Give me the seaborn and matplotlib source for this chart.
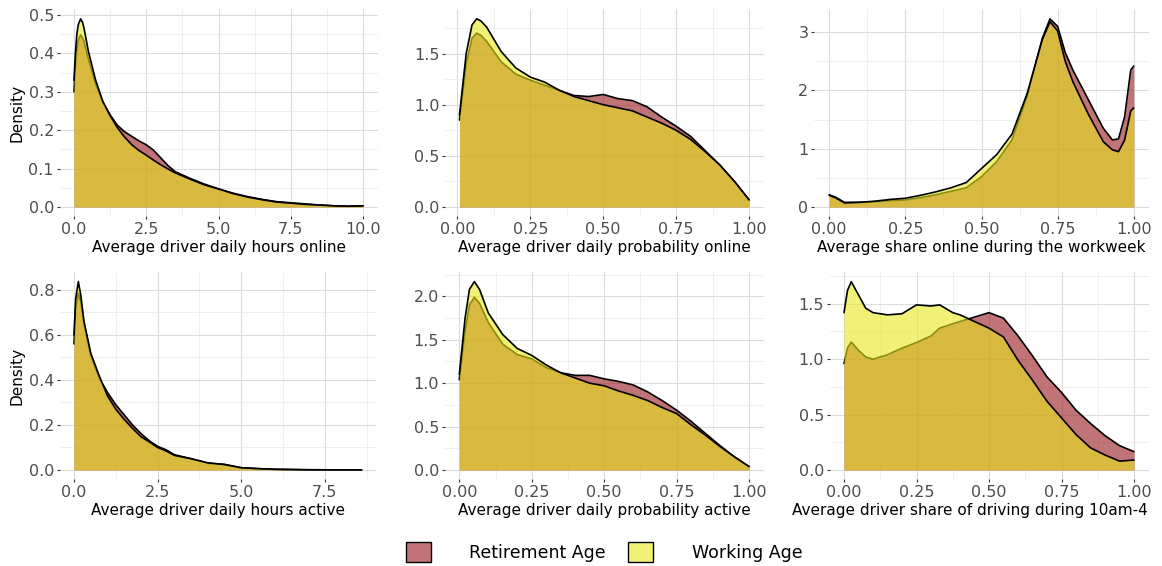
import numpy as np
import pandas as pd
import matplotlib
matplotlib.use("Agg")
import matplotlib.pyplot as plt
from matplotlib.patches import Patch
from matplotlib.ticker import AutoMinorLocator
from matplotlib.colors import to_rgba
import seaborn as sns

# ── density curves (Retirement Age / Working Age) ──
x_hours_online = [0, 0.05, 0.1, 0.15, 0.23, 0.3, 0.35, 0.5, 0.75, 1.0, 1.25, 1.5, 1.75, 2.0, 2.25,
                  2.5, 2.75, 3.0, 3.25, 3.5, 4.0, 4.5, 5.0, 5.5, 6.0, 6.5, 7.0, 7.5, 8.0, 8.5,
                  9.0, 9.5, 10.0]
ret_hours_online = [0.30, 0.37, 0.41, 0.435, 0.448, 0.44, 0.43, 0.385, 0.32, 0.272, 0.24, 0.213,
                    0.196, 0.184, 0.172, 0.162, 0.148, 0.128, 0.108, 0.092, 0.075, 0.06, 0.047,
                    0.036, 0.027, 0.02, 0.014, 0.011, 0.008, 0.005, 0.003, 0.002, 0.003]
work_hours_online = [0.33, 0.40, 0.45, 0.475, 0.49, 0.48, 0.465, 0.405, 0.33, 0.275, 0.238, 0.207,
                     0.182, 0.162, 0.147, 0.135, 0.122, 0.11, 0.099, 0.089, 0.073, 0.058, 0.047,
                     0.035, 0.026, 0.019, 0.013, 0.01, 0.007, 0.005, 0.003, 0.002, 0.003]

x_prob_online = [0.007, 0.03, 0.05, 0.066, 0.08, 0.1, 0.125, 0.15, 0.2, 0.25, 0.3, 0.35, 0.4,
                 0.45, 0.5, 0.55, 0.6, 0.65, 0.7, 0.75, 0.8, 0.85, 0.9, 0.95, 1.0]
ret_prob_online = [0.85, 1.4, 1.65, 1.70, 1.68, 1.62, 1.52, 1.42, 1.30, 1.24, 1.19, 1.14, 1.09,
                   1.08, 1.10, 1.06, 1.04, 0.98, 0.88, 0.79, 0.69, 0.55, 0.41, 0.25, 0.07]
work_prob_online = [0.90, 1.5, 1.78, 1.84, 1.82, 1.76, 1.64, 1.52, 1.36, 1.27, 1.22, 1.14, 1.08,
                    1.04, 1.00, 0.97, 0.94, 0.88, 0.82, 0.75, 0.66, 0.54, 0.41, 0.25, 0.07]

x_workweek = [0, 0.02, 0.05, 0.1, 0.15, 0.2, 0.25, 0.3, 0.35, 0.4, 0.45, 0.5, 0.55, 0.6, 0.65,
              0.675, 0.7, 0.725, 0.75, 0.775, 0.8, 0.85, 0.9, 0.93, 0.95, 0.97, 0.99, 1.0]
ret_workweek = [0.21, 0.17, 0.08, 0.08, 0.09, 0.11, 0.12, 0.16, 0.21, 0.27, 0.33, 0.52, 0.78,
                1.15, 1.9, 2.4, 2.9, 3.23, 3.1, 2.65, 2.35, 1.85, 1.35, 1.15, 1.17, 1.55, 2.35, 2.42]
work_workweek = [0.20, 0.16, 0.07, 0.08, 0.1, 0.13, 0.15, 0.2, 0.26, 0.33, 0.42, 0.66, 0.9,
                 1.25, 1.95, 2.42, 2.88, 3.18, 3.02, 2.5, 2.15, 1.6, 1.12, 0.98, 0.95, 1.15, 1.65, 1.70]

x_hours_active = [0, 0.05, 0.13, 0.2, 0.3, 0.5, 0.75, 1.0, 1.25, 1.5, 1.75, 2.0, 2.25, 2.5, 2.75,
                  3.0, 3.5, 4.0, 4.5, 5.0, 5.5, 6.0, 7.0, 8.0, 8.6]
ret_hours_active = [0.56, 0.72, 0.785, 0.75, 0.65, 0.51, 0.41, 0.345, 0.29, 0.245, 0.2, 0.162,
                    0.13, 0.105, 0.09, 0.068, 0.05, 0.03, 0.025, 0.01, 0.006, 0.003, 0.001,
                    0.0005, 0.0005]
work_hours_active = [0.60, 0.76, 0.837, 0.78, 0.66, 0.52, 0.42, 0.33, 0.27, 0.225, 0.185, 0.148,
                     0.125, 0.1, 0.085, 0.065, 0.05, 0.032, 0.024, 0.01, 0.006, 0.003, 0.001,
                     0.0005, 0.0005]

x_prob_active = [0, 0.02, 0.035, 0.052, 0.07, 0.1, 0.15, 0.2, 0.25, 0.3, 0.35, 0.4, 0.45, 0.5,
                 0.55, 0.6, 0.65, 0.7, 0.75, 0.8, 0.85, 0.9, 0.95, 1.0]
ret_prob_active = [1.04, 1.6, 1.9, 1.99, 1.92, 1.70, 1.45, 1.33, 1.28, 1.18, 1.12, 1.09, 1.09,
                   1.05, 1.02, 0.98, 0.90, 0.80, 0.69, 0.56, 0.42, 0.28, 0.15, 0.04]
work_prob_active = [1.10, 1.75, 2.08, 2.17, 2.08, 1.81, 1.56, 1.40, 1.32, 1.21, 1.12, 1.06, 1.00,
                    0.97, 0.91, 0.86, 0.80, 0.72, 0.65, 0.52, 0.40, 0.27, 0.15, 0.04]

x_midday = [0, 0.012, 0.025, 0.05, 0.075, 0.1, 0.15, 0.2, 0.25, 0.3, 0.33, 0.375, 0.4, 0.45, 0.5,
            0.55, 0.6, 0.65, 0.7, 0.75, 0.8, 0.85, 0.9, 0.95, 1.0]
ret_midday = [0.96, 1.10, 1.155, 1.08, 1.02, 1.00, 1.04, 1.10, 1.15, 1.21, 1.28, 1.32, 1.34,
              1.38, 1.42, 1.37, 1.21, 1.03, 0.84, 0.70, 0.54, 0.42, 0.31, 0.22, 0.165]
work_midday = [1.42, 1.62, 1.70, 1.58, 1.46, 1.42, 1.40, 1.41, 1.49, 1.48, 1.49, 1.42, 1.40,
               1.34, 1.28, 1.20, 0.99, 0.81, 0.62, 0.47, 0.32, 0.20, 0.135, 0.08, 0.09]

GROUPS = ["Retirement Age", "Working Age"]
COLORS = {"Retirement Age": "#96171E", "Working Age": "#E9E91C"}
ALPHA = 0.6

# (x, retirement, working, xlabel, xticks, xticklabels, yticks, yticklabels, ylabel)
PANELS = [
    (x_hours_online, ret_hours_online, work_hours_online, "Average driver daily hours online",
     [0, 2.5, 5, 7.5, 10], ["0.0", "2.5", "5.0", "7.5", "10.0"],
     [0, 0.1, 0.2, 0.3, 0.4, 0.5], ["0.0", "0.1", "0.2", "0.3", "0.4", "0.5"], "Density"),
    (x_prob_online, ret_prob_online, work_prob_online, "Average driver daily probability online",
     [0, 0.25, 0.5, 0.75, 1], ["0.00", "0.25", "0.50", "0.75", "1.00"],
     [0, 0.5, 1.0, 1.5], ["0.0", "0.5", "1.0", "1.5"], None),
    (x_workweek, ret_workweek, work_workweek, "Average share online during the workweek",
     [0, 0.25, 0.5, 0.75, 1], ["0.00", "0.25", "0.50", "0.75", "1.00"],
     [0, 1, 2, 3], ["0", "1", "2", "3"], None),
    (x_hours_active, ret_hours_active, work_hours_active, "Average driver daily hours active",
     [0, 2.5, 5, 7.5], ["0.0", "2.5", "5.0", "7.5"],
     [0, 0.2, 0.4, 0.6, 0.8], ["0.0", "0.2", "0.4", "0.6", "0.8"], "Density"),
    (x_prob_active, ret_prob_active, work_prob_active, "Average driver daily probability active",
     [0, 0.25, 0.5, 0.75, 1], ["0.00", "0.25", "0.50", "0.75", "1.00"],
     [0, 0.5, 1.0, 1.5, 2.0], ["0.0", "0.5", "1.0", "1.5", "2.0"], None),
    (x_midday, ret_midday, work_midday, "Average driver share of driving during 10am-4",
     [0, 0.25, 0.5, 0.75, 1], ["0.00", "0.25", "0.50", "0.75", "1.00"],
     [0, 0.5, 1.0, 1.5], ["0.0", "0.5", "1.0", "1.5"], None),
]

# panel boxes in pixels: left, right, top, bottom
W, H = 1162, 566
BOXES = [(59.5, 377.5, 9.4, 216.4), (445, 763.5, 9.4, 216.4), (814, 1149, 9.4, 216.4),
         (59.6, 376, 272.2, 479.4), (444.8, 763.5, 272.2, 479.4), (829.5, 1148.5, 272.2, 479.4)]

sns.set_theme(style="white")
plt.rcParams["font.family"] = ["DejaVu Sans"]

fig = plt.figure(figsize=(W / 100, H / 100), dpi=100, facecolor="white")

for i, ((xs, ret, work, xlab, xt, xtl, yt, ytl, ylab), (l, r, t, b)) in enumerate(zip(PANELS, BOXES)):
    ax = fig.add_axes([l / W, 1 - b / H, (r - l) / W, (b - t) / H])
    ax.set_facecolor("white")
    df = pd.DataFrame({"x": xs * 2, "density": ret + work,
                       "group": ["Retirement Age"] * len(xs) + ["Working Age"] * len(xs)})
    # each group: fill then outline, working age drawn over retirement age
    for k, g in enumerate(GROUPS):
        d = df[df["group"] == g]
        ax.fill_between(d["x"], 0, d["density"], color=COLORS[g], alpha=ALPHA, lw=0,
                        zorder=2 + 2 * k)
        sns.lineplot(data=d, x="x", y="density", color="black", lw=1.2, ax=ax,
                     estimator=None, sort=False, zorder=3 + 2 * k)

    # ggplot-style 5% expansion
    xmin, xmax = min(xs), max(xs)
    ymax = max(max(ret), max(work))
    ax.set_xlim(xmin - 0.05 * (xmax - xmin), xmax + 0.05 * (xmax - xmin))
    ax.set_ylim(-0.05 * ymax, 1.05 * ymax)

    ax.set_xticks(xt)
    ax.set_xticklabels(xtl)
    ax.set_yticks(yt)
    ax.set_yticklabels(ytl)
    ax.xaxis.set_minor_locator(AutoMinorLocator(2))
    ax.yaxis.set_minor_locator(AutoMinorLocator(2))
    ax.grid(which="major", color="#DCDCDC", lw=0.8, zorder=0)
    ax.grid(which="minor", color="#ECECEC", lw=0.6, zorder=0)
    ax.set_axisbelow(True)
    ax.tick_params(which="major", length=2.5, width=0.8, color="#333333", pad=1.5,
                   labelsize=11.5, labelcolor="#4D4D4D", direction="out",
                   bottom=True, left=True)
    ax.tick_params(which="minor", length=0)
    for s in ax.spines.values():
        s.set_visible(False)

    ax.set_xlabel(xlab, fontsize=11, color="black", labelpad=2)
    if ylab:
        ax.set_ylabel(ylab, fontsize=11, color="black", labelpad=3)
    else:
        ax.set_ylabel("")
    if i == 5:
        # label runs off the right edge in the original
        ax.xaxis.label.set_x(0.44)

handles = [Patch(facecolor=to_rgba(COLORS[g], ALPHA), edgecolor="black", lw=1.0) for g in GROUPS]
leg = fig.legend(handles, GROUPS, loc="center", bbox_to_anchor=(604 / W, 1 - 552 / H), ncol=2,
                 frameon=False, fontsize=12.5, handlelength=1.45, handleheight=1.45,
                 handletextpad=2.2, columnspacing=1.3)
for txt in leg.get_texts():
    txt.set_color("black")

plt.savefig("out.png", dpi=100, facecolor="white")
